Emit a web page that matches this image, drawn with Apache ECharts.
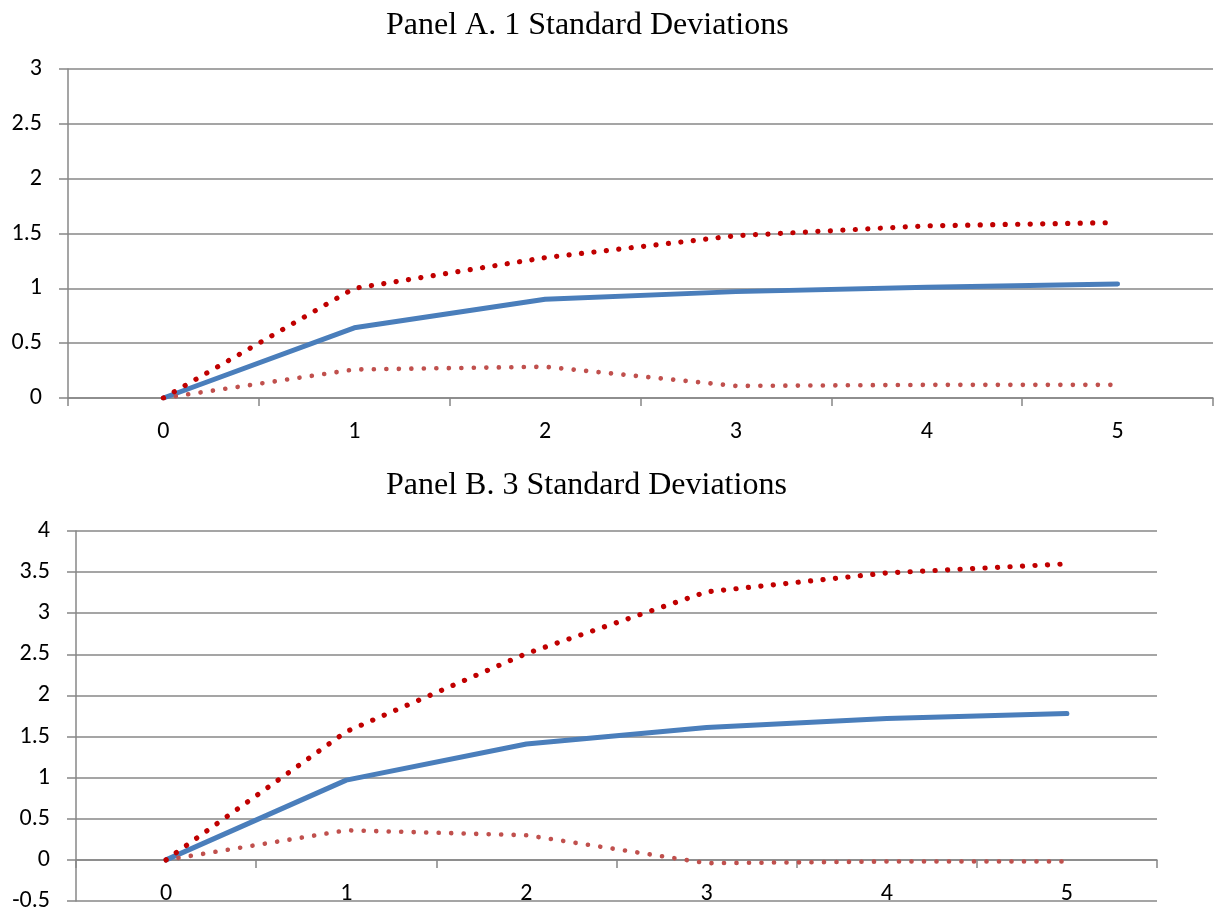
<!DOCTYPE html>
<html>
<head>
<meta charset="utf-8">
<script src="https://cdn.jsdelivr.net/npm/echarts@6/dist/echarts.min.js"></script>
<style>
  html, body { margin: 0; padding: 0; background: #fff; }
  #myChart { width: 1217px; height: 916px; }
</style>
</head>
<body>
<div id="myChart"></div>
<script>
// 横轴（期数）
const categories = ['0', '1', '2', '3', '4', '5']

// Panel A: 1 standard deviation
const meanA = [0, 0.64, 0.90, 0.97, 1.01, 1.04]
const upperA = [0, 1.00, 1.28, 1.48, 1.57, 1.60]
const lowerA = [0, 0.26, 0.285, 0.11, 0.12, 0.12]

// Panel B: 3 standard deviations
const meanB = [0, 0.97, 1.41, 1.61, 1.72, 1.78]
const upperB = [0, 1.56, 2.51, 3.26, 3.49, 3.60]
const lowerB = [0, 0.36, 0.30, -0.04, -0.02, -0.02]

const titles = ['Panel A. 1 Standard Deviations', 'Panel B. 3 Standard Deviations']

const gridColor = '#878787'
const labelFont = 'Carlito, Calibri, Lato, "Noto Sans", sans-serif'
const titleStyle = { fontFamily: '"Liberation Serif", "Times New Roman", serif', fontWeight: 'normal', fontSize: 32, color: '#000' }

function xAxisFor (idx, offset) {
  return {
    type: 'category',
    gridIndex: idx,
    data: categories,
    boundaryGap: true,
    offset: offset,
    axisLine: { onZero: false, lineStyle: { color: gridColor, width: 1.5 } },
    axisTick: { show: true, inside: false, length: 8, lineStyle: { color: gridColor, width: 1.5 } },
    axisLabel: { color: '#000', fontSize: 24, fontFamily: labelFont, margin: 22 },
    splitLine: { show: false }
  }
}

function yAxisFor (idx, min, max) {
  return {
    type: 'value',
    gridIndex: idx,
    min: min,
    max: max,
    interval: 0.5,
    axisLine: { show: true, lineStyle: { color: gridColor, width: 1.5 } },
    axisTick: { show: true, inside: false, length: 9, lineStyle: { color: gridColor, width: 1.5 } },
    axisLabel: { color: '#000', fontSize: 24, fontFamily: labelFont, margin: 26 },
    splitLine: { show: true, lineStyle: { color: gridColor, width: 1.5 } }
  }
}

function seriesFor (idx, mean, upper, lower) {
  return [
    {
      type: 'line', xAxisIndex: idx, yAxisIndex: idx, data: mean,
      symbol: 'none',
      lineStyle: { color: '#4A7EBB', width: 5, cap: 'round', join: 'round' }
    },
    {
      type: 'line', xAxisIndex: idx, yAxisIndex: idx, data: lower,
      symbol: 'none',
      lineStyle: { color: '#C0504D', width: 4.6, type: [0.1, 12.4], cap: 'round' }
    },
    {
      type: 'line', xAxisIndex: idx, yAxisIndex: idx, data: upper,
      symbol: 'none',
      lineStyle: { color: '#C00000', width: 5.2, type: [0.1, 12.4], cap: 'round' }
    }
  ]
}

let myChart = echarts.init(document.getElementById('myChart'), null, { renderer: 'canvas' })
myChart.setOption({
  animation: false,
  backgroundColor: '#fff',
  title: [
    { text: titles[0], left: 381, top: 5, textStyle: titleStyle },
    { text: titles[1], left: 381, top: 465, textStyle: titleStyle }
  ],
  grid: [
    { left: 68, right: 4, top: 69, height: 329, containLabel: false, outerBoundsMode: 'none' },
    { left: 76, right: 60, top: 531, height: 370, containLabel: false, outerBoundsMode: 'none' }
  ],
  // Panel B 的横轴画在 y=0 处（向上偏移半个刻度）
  xAxis: [xAxisFor(0, 0), xAxisFor(1, -41)],
  yAxis: [yAxisFor(0, 0, 3), yAxisFor(1, -0.5, 4)],
  series: seriesFor(0, meanA, upperA, lowerA).concat(seriesFor(1, meanB, upperB, lowerB))
})
window.onresize = myChart.resize
</script>
</body>
</html>
